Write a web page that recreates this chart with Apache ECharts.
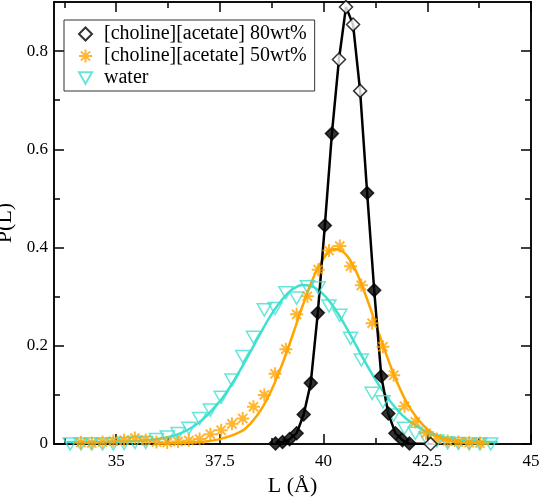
<!DOCTYPE html>
<html>
<head>
<meta charset="utf-8">
<script src="https://cdn.jsdelivr.net/npm/echarts@6/dist/echarts.min.js"></script>
<style>
  html, body { margin: 0; padding: 0; background: #fff; }
  #chart { width: 540px; height: 497px; }
</style>
</head>
<body>
<div id="chart"></div>
<script>
// 80wt% (black diamonds, joined by straight segments)
var blackX = [38.84, 39.01, 39.18, 39.35, 39.52, 39.69, 39.86, 40.03, 40.20, 40.37, 40.54, 40.71, 40.88, 41.05, 41.22, 41.39, 41.56, 41.73, 41.90, 42.07, 42.58];
var blackY = [0.001, 0.004, 0.010, 0.022, 0.060, 0.124, 0.267, 0.445, 0.632, 0.783, 0.890, 0.854, 0.719, 0.511, 0.313, 0.138, 0.062, 0.022, 0.008, 0.001, 0.0];

// 50wt% (orange asterisks)
var orangeX = [34.15, 34.41, 34.67, 34.93, 35.19, 35.45, 35.71, 35.97, 36.23, 36.49, 36.75, 37.01, 37.27, 37.53, 37.79, 38.05, 38.31, 38.57, 38.83, 39.09, 39.35, 39.61, 39.87, 40.13, 40.39, 40.65, 40.91, 41.17, 41.43, 41.69, 41.95, 42.21, 42.47, 42.73, 42.99, 43.25, 43.51, 43.77];
var orangeY = [0.003, 0.002, 0.004, 0.006, 0.008, 0.012, 0.008, 0.004, 0.003, 0.005, 0.007, 0.010, 0.020, 0.028, 0.041, 0.052, 0.076, 0.100, 0.143, 0.193, 0.264, 0.301, 0.355, 0.394, 0.403, 0.362, 0.323, 0.246, 0.198, 0.140, 0.077, 0.045, 0.022, 0.010, 0.006, 0.004, 0.003, 0.002];
// fitted curve for 50wt%
var orangeFitX = [36.0, 36.5, 37.0, 37.5, 38.0, 38.25, 38.5, 38.75, 39.0, 39.25, 39.5, 39.75, 40.0, 40.25, 40.5, 40.75, 41.0, 41.25, 41.5, 41.75, 42.0, 42.25, 42.5, 42.75, 43.0, 43.5, 44.0];
var orangeFitY = [0.001, 0.002, 0.004, 0.010, 0.025, 0.043, 0.071, 0.111, 0.162, 0.221, 0.283, 0.338, 0.378, 0.397, 0.389, 0.357, 0.306, 0.246, 0.185, 0.130, 0.085, 0.053, 0.030, 0.016, 0.008, 0.002, 0.001];

// water (cyan triangles)
var cyanX = [33.89, 34.15, 34.41, 34.67, 34.93, 35.19, 35.45, 35.71, 35.97, 36.23, 36.49, 36.75, 37.01, 37.27, 37.53, 37.79, 38.05, 38.31, 38.57, 38.83, 39.09, 39.35, 39.61, 39.87, 40.13, 40.39, 40.65, 40.91, 41.17, 41.43, 41.69, 41.95, 42.21, 42.47, 42.73, 42.99, 43.25, 43.51, 43.77, 44.03];
var cyanY = [0.000, 0.000, 0.000, 0.000, 0.000, 0.001, 0.003, 0.003, 0.009, 0.014, 0.021, 0.032, 0.052, 0.069, 0.095, 0.130, 0.178, 0.217, 0.273, 0.276, 0.308, 0.297, 0.320, 0.318, 0.281, 0.262, 0.215, 0.171, 0.103, 0.086, 0.059, 0.032, 0.022, 0.012, 0.006, 0.002, 0.001, 0.000, 0.000, 0.000];
// fitted curve for water
var cyanFitX = [33.8, 34.5, 35.0, 35.5, 36.0, 36.5, 37.0, 37.5, 37.75, 38.0, 38.25, 38.5, 38.75, 39.0, 39.25, 39.5, 39.75, 40.0, 40.25, 40.5, 40.75, 41.0, 41.25, 41.5, 41.75, 42.0, 42.5, 43.0, 43.5, 44.2];
var cyanFitY = [0.004, 0.004, 0.005, 0.006, 0.010, 0.020, 0.044, 0.087, 0.117, 0.152, 0.190, 0.229, 0.265, 0.294, 0.315, 0.324, 0.320, 0.304, 0.278, 0.244, 0.206, 0.167, 0.131, 0.099, 0.072, 0.051, 0.024, 0.011, 0.006, 0.004];

var xMajor = [35, 37.5, 40, 42.5, 45];
var xMinor = [33.75, 36.25, 38.75, 41.25, 43.75];
var yMajor = [0, 0.2, 0.4, 0.6, 0.8];
var yMinor = [0.1, 0.3, 0.5, 0.7];

var names = ['[choline][acetate] 80wt%', '[choline][acetate] 50wt%', 'water'];

function pairs(xs, ys) {
    var out = [];
    for (var i = 0; i < xs.length; i++) out.push([xs[i], ys[i]]);
    return out;
}

var FONT = 'Liberation Serif';
var CYAN = '#40E0D0';
var ORANGE = '#FFA500';
var ASTERISK = 'path://M6 0L6 12M0 6L12 6M1.76 1.76L10.24 10.24M1.76 10.24L10.24 1.76';
var DOWN_TRI = 'path://M0 0L12 0L6 10.4Z';

// filled diamonds except the tall ones and the last one
var blackPts = [];
for (var i = 0; i < blackX.length; i++) {
    var filled = blackY[i] < 0.7 && i < blackX.length - 1;
    blackPts.push(filled ? { value: [blackX[i], blackY[i]], itemStyle: { color: '#000' } } : [blackX[i], blackY[i]]);
}

function xAxisDef(pos, ticks, len, labels) {
    return {
        type: 'value', position: pos, min: 33.5, max: 45,
        axisLine: { show: true, onZero: false, lineStyle: { color: '#000', width: 1.5 } },
        axisTick: { show: true, inside: true, length: len, customValues: ticks, lineStyle: { color: '#000', width: 1.5 } },
        axisLabel: labels ? { show: true, customValues: ticks, margin: 9, color: '#000', fontFamily: FONT, fontSize: 17 } : { show: false },
        splitLine: { show: false }
    };
}
function yAxisDef(pos, ticks, len, labels) {
    return {
        type: 'value', position: pos, min: 0, max: 0.9,
        axisLine: { show: true, onZero: false, lineStyle: { color: '#000', width: 1.5 } },
        axisTick: { show: true, inside: true, length: len, customValues: ticks, lineStyle: { color: '#000', width: 1.5 } },
        axisLabel: labels ? { show: true, customValues: ticks, margin: 6, color: '#000', fontFamily: FONT, fontSize: 17 } : { show: false },
        splitLine: { show: false }
    };
}

var xMain = xAxisDef('bottom', xMajor, 10, true);
xMain.name = 'L (\u00c5)';
xMain.nameLocation = 'middle';
xMain.nameGap = 27;
xMain.nameTextStyle = { color: '#000', fontFamily: FONT, fontSize: 22 };
var yMain = yAxisDef('left', yMajor, 10, true);
yMain.name = 'P(L)';
yMain.nameLocation = 'middle';
yMain.nameGap = 31;
yMain.nameTextStyle = { color: '#000', fontFamily: FONT, fontSize: 22 };

var chart = echarts.init(document.getElementById('chart'));
var option = {
    animation: false,
    backgroundColor: '#fff',
    grid: { left: 54, right: 9, top: 2, bottom: 53, containLabel: false, outerBoundsMode: 'none' },
    xAxis: [xMain, xAxisDef('bottom', xMinor, 6, false), xAxisDef('top', xMajor, 10, false), xAxisDef('top', xMinor, 6, false)],
    yAxis: [yMain, yAxisDef('left', yMinor, 6, false), yAxisDef('right', yMajor, 10, false), yAxisDef('right', yMinor, 6, false)],
    legend: {
        orient: 'vertical', left: 64, top: 20,
        data: names,
        itemWidth: 13, itemHeight: 13, itemGap: 2,
        padding: [4, 8, 3, 14],
        borderColor: '#333', borderWidth: 1,
        textStyle: { color: '#000', fontFamily: FONT, fontSize: 20, padding: [0, 0, 0, 7] }
    },
    series: [{
        type: 'line', name: 'water fit', data: pairs(cyanFitX, cyanFitY),
        smooth: 0.4, showSymbol: false, silent: true,
        lineStyle: { color: CYAN, width: 2.5 }, z: 2
    }, {
        type: 'line', name: '50wt% fit', data: pairs(orangeFitX, orangeFitY),
        smooth: 0.4, showSymbol: false, silent: true,
        lineStyle: { color: ORANGE, width: 2.5 }, z: 2
    }, {
        type: 'line', name: '80wt% line', data: pairs(blackX, blackY),
        showSymbol: false, silent: true,
        lineStyle: { color: '#000', width: 2.5 }, z: 3
    }, {
        type: 'scatter', name: names[2], data: pairs(cyanX, cyanY),
        symbol: DOWN_TRI, symbolSize: 14, symbolKeepAspect: true,
        itemStyle: { color: 'rgba(255,255,255,0)', borderColor: CYAN, borderWidth: 1.5 }, z: 4
    }, {
        type: 'scatter', name: names[1], data: pairs(orangeX, orangeY),
        symbol: ASTERISK, symbolSize: 13,
        itemStyle: { color: 'rgba(255,255,255,0)', borderColor: ORANGE, borderWidth: 2 }, z: 4
    }, {
        type: 'scatter', name: names[0], data: blackPts,
        symbol: 'diamond', symbolSize: 13,
        itemStyle: { color: '#fff', borderColor: '#000', borderWidth: 1.5 }, z: 5
    }]
};
chart.setOption(option);
</script>
</body>
</html>
